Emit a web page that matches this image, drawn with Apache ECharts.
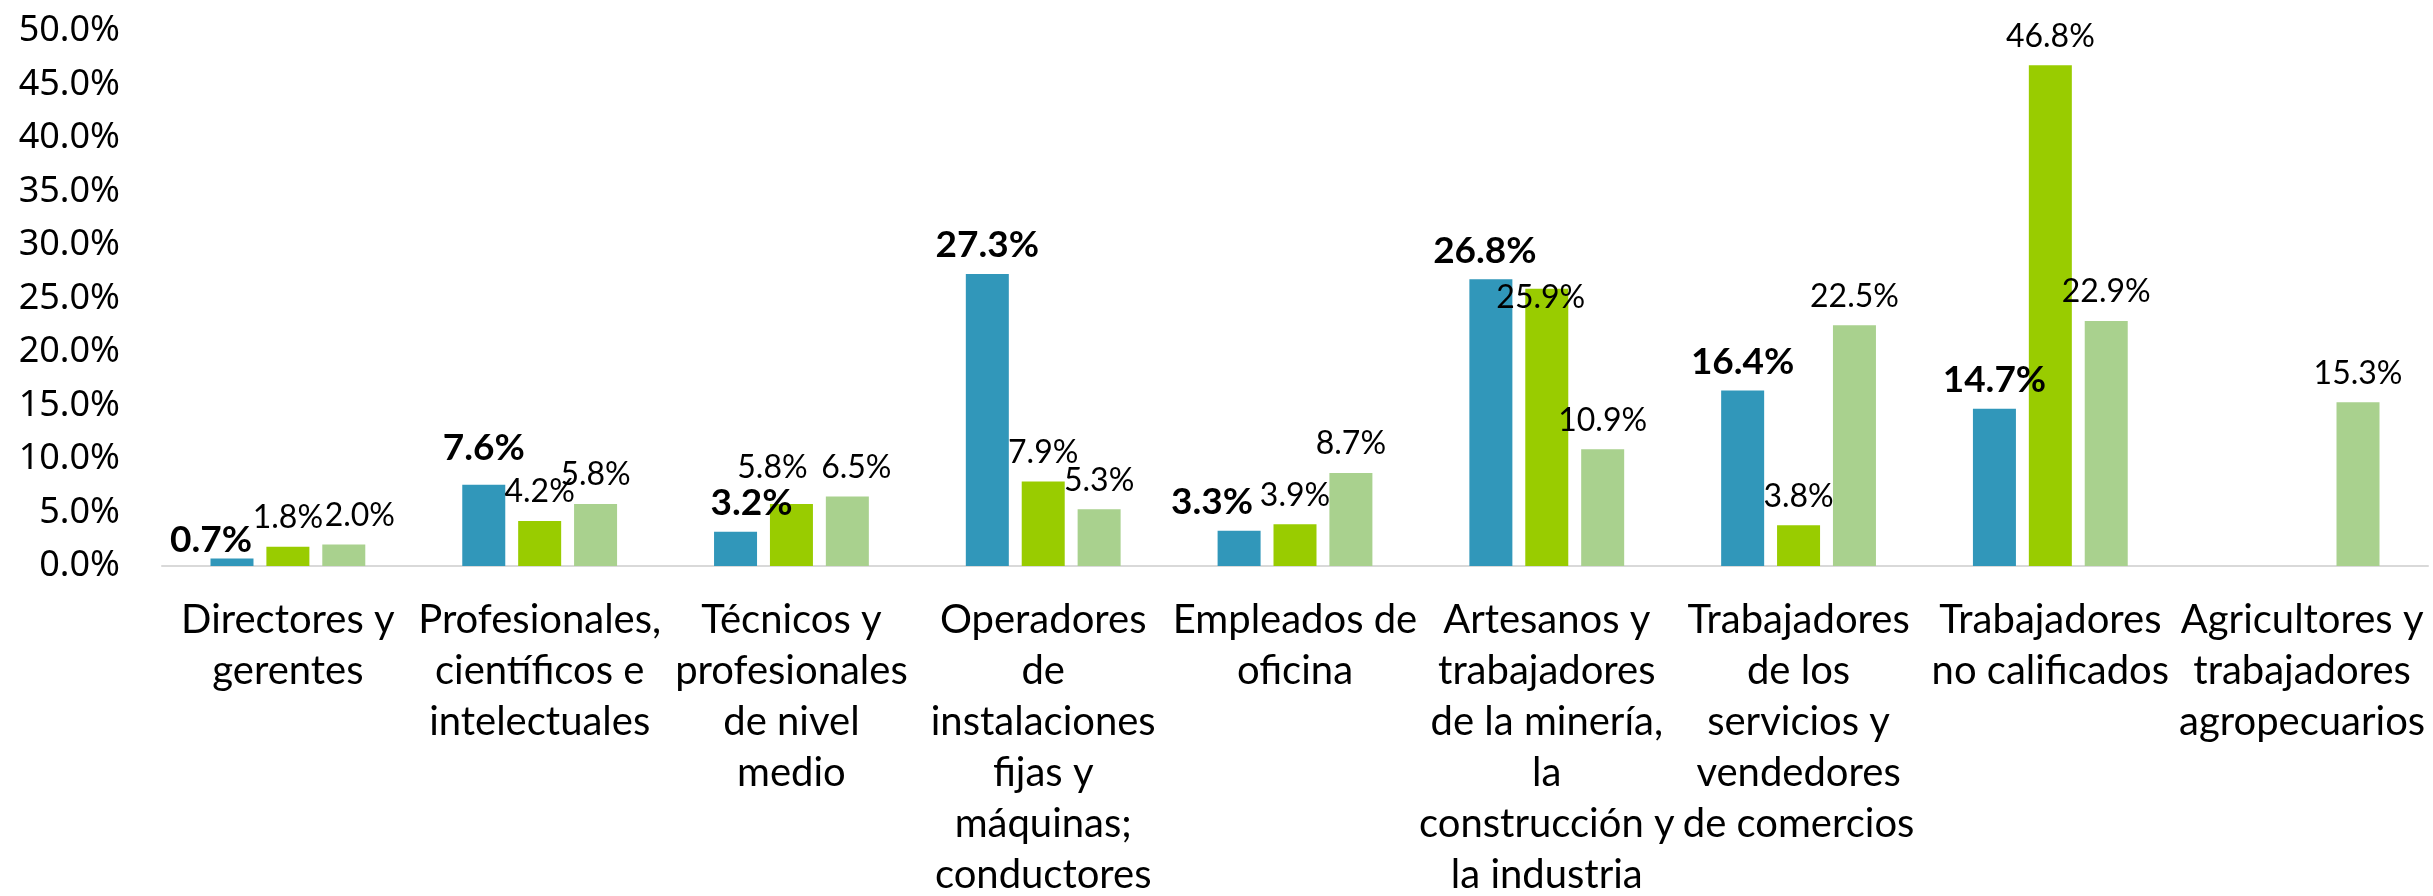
<!DOCTYPE html>
<html>
<head>
<meta charset="UTF-8">
<title>Ocupaciones</title>
<script src="https://cdn.jsdelivr.net/npm/echarts@6/dist/echarts.min.js"></script>
<style>
  html, body { margin: 0; padding: 0; background: #fff; }
  #main { width: 2433px; height: 896px; }
</style>
</head>
<body>
<div id="main"></div>
<script type="text/javascript">
// categorias (con los saltos de linea como en el original)
var categories = [
    "Directores y\ngerentes",
    "Profesionales,\ncientíficos e\nintelectuales",
    "Técnicos y\nprofesionales\nde nivel\nmedio",
    "Operadores\nde\ninstalaciones\nfijas y\nmáquinas;\nconductores",
    "Empleados de\noficina",
    "Artesanos y\ntrabajadores\nde la minería,\nla\nconstrucción y\nla industria",
    "Trabajadores\nde los\nservicios y\nvendedores\nde comercios",
    "Trabajadores\nno calificados",
    "Agricultores y\ntrabajadores\nagropecuarios"
];

// valores en %
var serieAzul = [0.7, 7.6, 3.2, 27.3, 3.3, 26.8, 16.4, 14.7, null];
var serieVerde = [1.8, 4.2, 5.8, 7.9, 3.9, 25.9, 3.8, 46.8, null];
var serieClara = [2.0, 5.8, 6.5, 5.3, 8.7, 10.9, 22.5, 22.9, 15.3];

var yMin = 0, yMax = 50, yStep = 5;

// desplazamientos de etiquetas (como las movio Excel para no chocar)
// [serie, indice, dx, dy]
var ajusteEtiquetas = [
    [0, 0, -21, 10],
    [2, 0, 16, 0],
    [0, 1, 0, -8],
    [0, 2, 16, 0],
    [1, 2, -19, -7],
    [2, 2, 9, 0],
    [0, 4, -27, 0],
    [0, 5, -6, 0],
    [1, 5, -6, 38]
];

function conAjustes(valores, serie) {
    return valores.map(function (v, i) {
        var item = { value: v };
        ajusteEtiquetas.forEach(function (a) {
            if (a[0] === serie && a[1] === i) item.label = { offset: [a[2], a[3]] };
        });
        return item;
    });
}

var myChart = echarts.init(document.getElementById('main'));

function etiqueta(bold) {
    return {
        show: true,
        position: 'top',
        distance: bold ? 10 : 13,
        color: '#000',
        fontFamily: 'Lato',
        fontSize: bold ? 37 : 32,
        fontWeight: bold ? 'bold' : 'normal',
        formatter: function (p) { return p.value == null ? '' : p.value.toFixed(1) + '%'; }
    };
}

var option = {
    animation: false,
    grid: { left: 162, right: 5, top: 31, bottom: 330, outerBoundsMode: 'none' },
    xAxis: {
        type: 'category',
        data: categories,
        axisTick: { show: false },
        axisLine: { lineStyle: { color: '#D9D9D9', width: 2 } },
        axisLabel: {
            interval: 0,
            color: '#000',
            fontFamily: 'Lato',
            fontSize: 40,
            lineHeight: 51,
            margin: 29
        }
    },
    yAxis: {
        type: 'value',
        min: yMin,
        max: yMax,
        interval: yStep,
        splitLine: { show: false },
        axisLine: { show: false },
        axisTick: { show: false },
        axisLabel: {
            color: '#000',
            fontFamily: 'Noto Sans',
            fontSize: 36,
            margin: 42,
            formatter: function (v) { return v.toFixed(1) + '%'; }
        }
    },
    series: [
        { name: 'azul', type: 'bar', data: conAjustes(serieAzul, 0), barWidth: 43, barGap: '30%',
          itemStyle: { color: '#3197BA' }, label: etiqueta(true) },
        { name: 'verde', type: 'bar', data: conAjustes(serieVerde, 1), barWidth: 43, barGap: '30%',
          itemStyle: { color: '#99CC00' }, label: etiqueta(false) },
        { name: 'clara', type: 'bar', data: conAjustes(serieClara, 2), barWidth: 43, barGap: '30%',
          itemStyle: { color: '#A9D18E' }, label: etiqueta(false) }
    ]
};

myChart.setOption(option);
</script>
</body>
</html>
